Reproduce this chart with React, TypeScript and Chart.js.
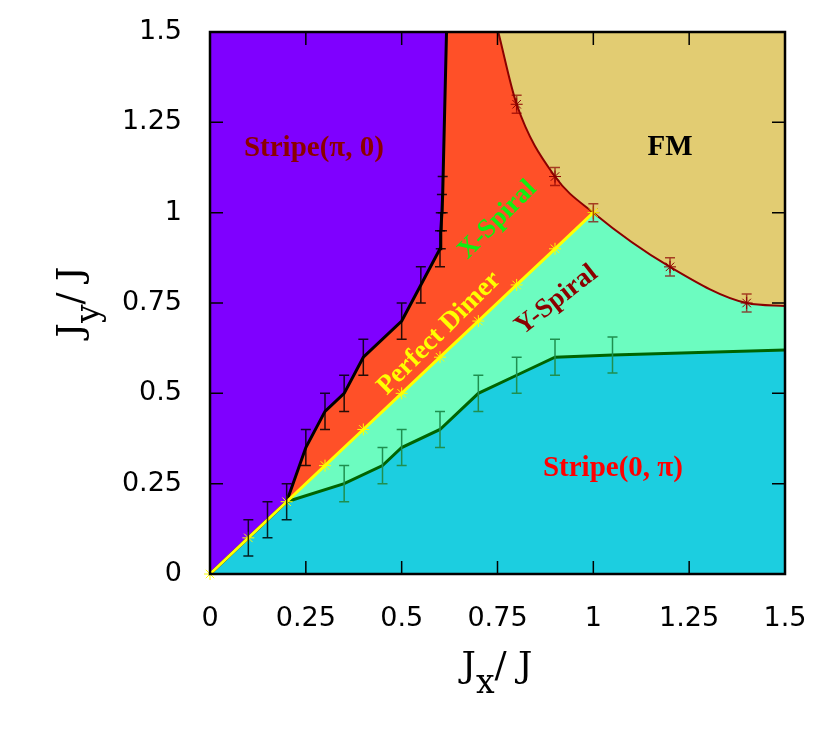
import React, { useEffect, useRef } from 'react';
import { Chart, registerables } from 'chart.js';

Chart.register(...registerables);

// ---- axis ticks ----
const axisTicks = [0, 0.25, 0.5, 0.75, 1, 1.25, 1.5];
const axisTickLabels = ['0', '0.25', '0.5', '0.75', '1', '1.25', '1.5'];

// ---- Stripe(pi,0) / X-Spiral boundary (black) ----
const stripeBoundaryX = [0, 0.1, 0.15, 0.2, 0.25, 0.3, 0.35, 0.4, 0.5, 0.55, 0.6, 0.602, 0.605, 0.607, 0.617];
const stripeBoundaryY = [0, 0.1, 0.15, 0.2, 0.35, 0.45, 0.5, 0.6, 0.7, 0.8, 0.9, 0.95, 1.0, 1.05, 1.5];
const stripeBoundaryErr = [0, 0.05, 0.05, 0.05, 0.05, 0.05, 0.05, 0.05, 0.05, 0.05, 0.05, 0.05, 0.05, 0.05, 0];

// ---- Stripe(0,pi) / Y-Spiral boundary (green) ----
const ySpiralBoundaryX = [0.2, 0.35, 0.45, 0.5, 0.6, 0.7, 0.8, 0.9, 1.05, 1.5];
const ySpiralBoundaryY = [0.2, 0.25, 0.3, 0.35, 0.4, 0.5, 0.55, 0.6, 0.606, 0.62];
const ySpiralBoundaryErr = [0, 0.05, 0.05, 0.05, 0.05, 0.05, 0.05, 0.05, 0.05, 0];

// ---- FM boundary (dark red) ----
const fmBoundaryX = [0.752, 0.8, 0.9, 1.0, 1.2, 1.4, 1.5];
const fmBoundaryY = [1.5, 1.3, 1.1, 1.0, 0.85, 0.75, 0.742];
const fmBoundaryErr = [0, 0.025, 0.025, 0.025, 0.025, 0.025, 0];

// ---- Perfect dimer line (yellow) ----
const dimerX = [0, 0.1, 0.2, 0.3, 0.4, 0.5, 0.6, 0.7, 0.8, 0.9, 1.0];
const dimerY = [0, 0.1, 0.2, 0.3, 0.4, 0.5, 0.6, 0.7, 0.8, 0.9, 1.0];

// ---- region labels ----
const labelTexts = ['Stripe(π, 0)', 'FM', 'X-Spiral', 'Perfect Dimer', 'Y-Spiral', 'Stripe(0, π)'];
const labelX = [0.271, 1.2, 0.75, 0.598, 0.904, 1.051];
const labelY = [1.178, 1.179, 0.98, 0.666, 0.758, 0.291];

const COLORS = {
  purple: '#7f00ff',
  red: '#ff5028',
  fm: '#e2cc72',
  mint: '#6cfcc0',
  cyan: '#1ccee0',
};

const labelStyles = [
  { color: '#8b0000', size: 29, angle: 0 },
  { color: '#000000', size: 29, angle: 0 },
  { color: '#11ee11', size: 27, angle: -45 },
  { color: '#ffff00', size: 27, angle: -45 },
  { color: '#8b0000', size: 27, angle: -38 },
  { color: '#ff0000', size: 29, angle: 0 },
];

const pts = (xs: number[], ys: number[]) => xs.map((x, i) => ({ x, y: ys[i] }));

const decorPlugin = {
  id: 'decor',
  afterDatasetsDraw(chart: any) {
    const { ctx, chartArea: a, scales } = chart;
    const xs = scales.x;
    const ys = scales.y;
    ctx.save();

    // error bars
    const drawErr = (X: number[], Y: number[], E: number[], color: string) => {
      ctx.strokeStyle = color;
      ctx.lineWidth = 1.5;
      for (let i = 0; i < X.length; i++) {
        if (!E[i]) continue;
        const px = xs.getPixelForValue(X[i]);
        const p1 = ys.getPixelForValue(Y[i] - E[i]);
        const p2 = ys.getPixelForValue(Y[i] + E[i]);
        ctx.beginPath();
        ctx.moveTo(px, p1);
        ctx.lineTo(px, p2);
        ctx.moveTo(px - 5, p1);
        ctx.lineTo(px + 5, p1);
        ctx.moveTo(px - 5, p2);
        ctx.lineTo(px + 5, p2);
        ctx.stroke();
      }
    };
    drawErr(stripeBoundaryX, stripeBoundaryY, stripeBoundaryErr, 'rgba(0,0,0,0.85)');
    drawErr(ySpiralBoundaryX, ySpiralBoundaryY, ySpiralBoundaryErr, '#1f8f4f');
    drawErr(fmBoundaryX, fmBoundaryY, fmBoundaryErr, 'rgba(139,0,0,0.7)');

    // inward ticks on all four sides
    ctx.strokeStyle = '#000';
    ctx.lineWidth = 1.5;
    const tl = 13;
    for (const v of axisTicks) {
      if (v <= 0 || v >= 1.5) continue;
      const px = xs.getPixelForValue(v);
      const py = ys.getPixelForValue(v);
      ctx.beginPath();
      ctx.moveTo(px, a.bottom);
      ctx.lineTo(px, a.bottom - tl);
      ctx.moveTo(px, a.top);
      ctx.lineTo(px, a.top + tl);
      ctx.moveTo(a.left, py);
      ctx.lineTo(a.left + tl, py);
      ctx.moveTo(a.right, py);
      ctx.lineTo(a.right - tl, py);
      ctx.stroke();
    }
    // border
    ctx.lineWidth = 2.5;
    ctx.strokeRect(a.left, a.top, a.right - a.left, a.bottom - a.top);

    // region labels
    for (let i = 0; i < labelTexts.length; i++) {
      const st = labelStyles[i];
      const px = xs.getPixelForValue(labelX[i]);
      const py = ys.getPixelForValue(labelY[i]);
      ctx.save();
      ctx.translate(px, py);
      ctx.rotate((st.angle * Math.PI) / 180);
      ctx.font = `bold ${st.size}px "Liberation Serif"`;
      ctx.fillStyle = st.color;
      ctx.textAlign = 'center';
      ctx.textBaseline = 'middle';
      ctx.fillText(labelTexts[i], 0, 0);
      ctx.restore();
    }

    // axis titles with subscripts
    const drawTitle = (cx: number, cy: number, rot: number, sub: string) => {
      ctx.save();
      ctx.translate(cx, cy);
      ctx.rotate(rot);
      ctx.fillStyle = '#000';
      ctx.textBaseline = 'alphabetic';
      ctx.textAlign = 'left';
      const mainFont = '36px "DejaVu Serif"';
      const subFont = '33px "DejaVu Serif"';
      ctx.font = mainFont;
      const w1 = ctx.measureText('J').width;
      const w3 = ctx.measureText('/ J').width;
      ctx.font = subFont;
      const w2 = ctx.measureText(sub).width;
      const x0 = -(w1 + w2 + w3) / 2;
      ctx.font = mainFont;
      ctx.fillText('J', x0, 0);
      ctx.font = subFont;
      ctx.fillText(sub, x0 + w1, 16.5);
      ctx.font = mainFont;
      ctx.fillText('/ J', x0 + w1 + w2, 0);
      ctx.restore();
    };
    drawTitle(497, 676.7, 0, 'x');
    drawTitle(82, 302, -Math.PI / 2, 'y');

    ctx.restore();
  },
};

export default function App() {
  const ref = useRef<HTMLCanvasElement>(null);
  useEffect(() => {
    const canvas = ref.current;
    if (!canvas) return;
    const none = 'rgba(0,0,0,0)';
    const fillBase = { borderColor: none, borderWidth: 0, pointRadius: 0 };
    const tickCb = (v: any) => {
      const i = axisTicks.indexOf(Number(v));
      return i >= 0 ? axisTickLabels[i] : '';
    };
    const chart = new Chart(canvas, {
      type: 'line',
      data: {
        datasets: [
          // fills (drawn beneath)
          { ...fillBase, data: [{ x: 0, y: 1.5 }, { x: 1.5, y: 1.5 }], fill: 'start', backgroundColor: COLORS.cyan, order: 20 },
          { ...fillBase, data: pts(ySpiralBoundaryX, ySpiralBoundaryY), fill: 'end', backgroundColor: COLORS.mint, order: 19 },
          { ...fillBase, data: [{ x: 0, y: 0 }, { x: 1.5, y: 1.5 }], fill: 'end', backgroundColor: COLORS.red, order: 18 },
          { ...fillBase, data: pts(stripeBoundaryX, stripeBoundaryY), fill: 'end', backgroundColor: COLORS.purple, order: 17 },
          { ...fillBase, data: pts(fmBoundaryX, fmBoundaryY), fill: 'end', backgroundColor: COLORS.fm, cubicInterpolationMode: 'monotone', order: 16 },
          // lines
          {
            data: pts(fmBoundaryX, fmBoundaryY), fill: false, borderColor: '#8b0000', borderWidth: 2,
            cubicInterpolationMode: 'monotone', pointStyle: 'star',
            pointRadius: fmBoundaryX.map((_, i) => (i === 0 || i === fmBoundaryX.length - 1 ? 0 : 6)),
            pointBorderColor: '#8b0000', pointBorderWidth: 1, order: 4,
          },
          { data: pts(ySpiralBoundaryX, ySpiralBoundaryY), fill: false, borderColor: '#006400', borderWidth: 3, pointRadius: 0, order: 3 },
          { data: pts(stripeBoundaryX, stripeBoundaryY), fill: false, borderColor: '#000000', borderWidth: 3, pointRadius: 0, order: 2 },
          {
            data: pts(dimerX, dimerY), fill: false, borderColor: '#ffff00', borderWidth: 3, clip: false,
            pointStyle: 'star', pointRadius: 6, pointBorderColor: '#ffff00', pointBorderWidth: 1, order: 1,
          },
        ] as any,
      },
      options: {
        animation: false,
        responsive: false,
        events: [],
        layout: { padding: { left: 0, top: 32, right: 45, bottom: 0 } },
        plugins: { legend: { display: false }, tooltip: { enabled: false } },
        scales: {
          x: {
            type: 'linear', min: 0, max: 1.5,
            afterBuildTicks: (s: any) => { s.ticks = axisTicks.map((v) => ({ value: v })); },
            afterFit: (s: any) => { s.height = 158; s.paddingLeft = 0; s.paddingRight = 0; },
            ticks: { callback: tickCb, font: { family: 'DejaVu Sans', size: 27 }, color: '#000', padding: 29, maxRotation: 0, autoSkip: false },
            grid: { display: false, drawTicks: false },
            border: { display: false },
          },
          y: {
            type: 'linear', min: 0, max: 1.5,
            afterBuildTicks: (s: any) => { s.ticks = axisTicks.map((v) => ({ value: v })); },
            afterFit: (s: any) => { s.width = 210; s.paddingTop = 0; s.paddingBottom = 0; },
            ticks: { callback: tickCb, font: { family: 'DejaVu Sans', size: 27 }, color: '#000', padding: 28, autoSkip: false },
            grid: { display: false, drawTicks: false },
            border: { display: false },
          },
        },
      } as any,
      plugins: [decorPlugin],
    });
    return () => chart.destroy();
  }, []);
  return (
    <div style={{ position: 'fixed', left: 0, top: 0, width: 830, height: 732, background: '#fff' }}>
      <canvas ref={ref} width={830} height={732} style={{ display: 'block', width: 830, height: 732 }} />
    </div>
  );
}
